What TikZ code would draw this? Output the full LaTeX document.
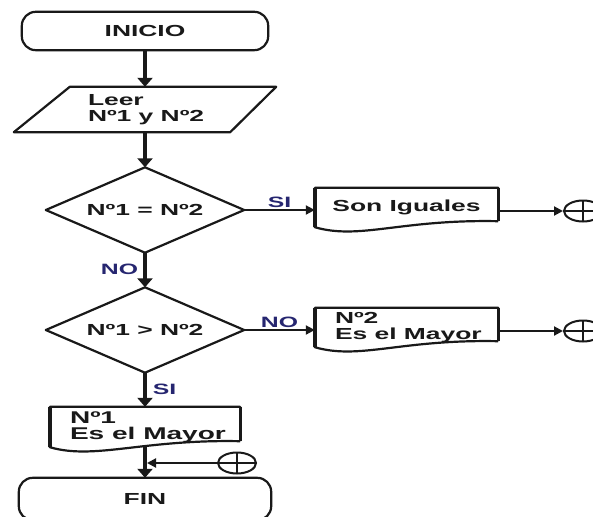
\documentclass[tikz,border=0pt]{standalone}
\usepackage{fontspec}
\setmainfont{Liberation Sans}[FakeStretch=1.65]
\usetikzlibrary{arrows.meta,shapes.geometric,calc}
\definecolor{labcol}{RGB}{38,38,112}
\definecolor{ink}{RGB}{25,25,25}
\begin{document}
\begin{tikzpicture}[x=1pt,y=-1pt,
  txt/.style={font=\fontsize{16}{15.5}\selectfont\bfseries, text=ink},
  shp/.style={rectangle, draw=none, inner sep=0pt, txt},
  outl/.style={draw=ink, line width=2.2pt, line join=round},
  vside/.style={draw=ink, line width=3.4pt},
  flow/.style={draw=ink, line width=3.8pt, -{Triangle[width=15pt,length=9pt]}},
  hflow/.style={draw=ink, line width=2pt, -{Triangle[width=9pt,length=9pt]}},
  lab/.style={font=\fontsize{15}{15}\selectfont\bfseries, text=labcol, inner sep=0pt},
  conn/.style={ellipse, draw=ink, line width=2pt, minimum width=38pt, minimum height=21pt, inner sep=0pt,
    path picture={\draw[ink, line width=2.4pt] (path picture bounding box.north) -- (path picture bounding box.south)
      (path picture bounding box.west) -- (path picture bounding box.east);}}
]
\fill[white] (0,0) rectangle (593,516);
\clip (0,0) rectangle (593,516);

% nodes
\node[shp, minimum width=246pt, minimum height=38pt] (ini) at (145,31) {INICIO};
\node[shp, minimum width=262pt, minimum height=45pt] (lee) at (145,109.5) {};
\node[txt, anchor=west, align=left, inner sep=0pt] (leet) at ($(lee.west)+(74,0)$) {Leer\\Nº1 y Nº2};
\node[shp, minimum width=198pt, minimum height=85pt] (d1) at (145,210) {Nº1 = Nº2};
\node[shp, minimum width=198pt, minimum height=85pt] (d2) at (145,330) {Nº1 > Nº2};
\node[shp, minimum width=183pt, minimum height=39pt] (b1) at (406.5,207.5) {Son Iguales};
\node[shp, minimum width=183pt, minimum height=39pt] (b2) at (406.5,327.5) {};
\node[txt, anchor=west, align=left, inner sep=0pt] (b2t) at ($(b2.west)+(20,0)$) {Nº2\\Es el Mayor};
\node[shp, minimum width=190pt, minimum height=40pt] (b3) at (145,427) {};
\node[txt, font=\fontsize{17}{15.5}\selectfont\bfseries, anchor=west, align=left, inner sep=0pt] (b3t) at ($(b3.west)+(20,0.5)$) {Nº1\\Es el Mayor};
\node[shp, minimum width=252pt, minimum height=42pt] (fin) at (145,499) {FIN};
\node[conn] (c1) at (583,211) {};
\node[conn] (c2) at (583,331) {};
\node[conn] (c3) at (237,463) {};

% outlines
\draw[outl, rounded corners=14pt] (ini.south west) rectangle (ini.north east);
\draw[outl, rounded corners=14pt] (fin.south west) rectangle (fin.north east);
\draw[outl] ($(lee.north west)+(56,0)$) -- (lee.north east) -- ($(lee.south east)+(-46,0)$) -- (lee.south west) -- cycle;
\draw[outl] (d1.north) -- (d1.east) -- (d1.south) -- (d1.west) -- cycle;
\draw[outl] (d2.north) -- (d2.east) -- (d2.south) -- (d2.west) -- cycle;
\foreach \b in {b1,b2,b3}{
  \draw[outl] ($(\b.south east)+(0,-6)$) -- (\b.north east) -- (\b.north west) -- (\b.south west)
    .. controls ($(\b.south west)+(45,13)$) and ($(\b.south east)+(-98,-8)$) .. ($(\b.south east)+(0,-6)$);
  \draw[vside] (\b.north west) -- (\b.south west);
  \draw[vside] (\b.north east) -- ($(\b.south east)+(0,-6)$);
}

% connectors
\draw[flow] (ini) -- (lee);
\draw[flow] (lee) -- (d1);
\draw[flow] (d1) -- node[lab, left=5pt, pos=0.47] (no1) {NO} (d2);
\draw[flow] (d2) -- node[lab, right=6pt, pos=0.5] (si2) {SI} (b3);
\draw[flow] (b3.south) -- (fin);
\draw[hflow] (d1.east) -- node[lab, above=1pt, pos=0.5] (si1) {SI} (d1.east -| b1.west);
\draw[hflow] (d2.east) -- node[lab, above=1pt, pos=0.5] (no2) {NO} (d2.east -| b2.west);
\draw[hflow] (b1.east |- c1) -- (c1);
\draw[hflow] (b2.east |- c2) -- (c2);
\draw[hflow, shorten >=2pt] (c3) -- (c3 -| b3.south);
\end{tikzpicture}
\end{document}
